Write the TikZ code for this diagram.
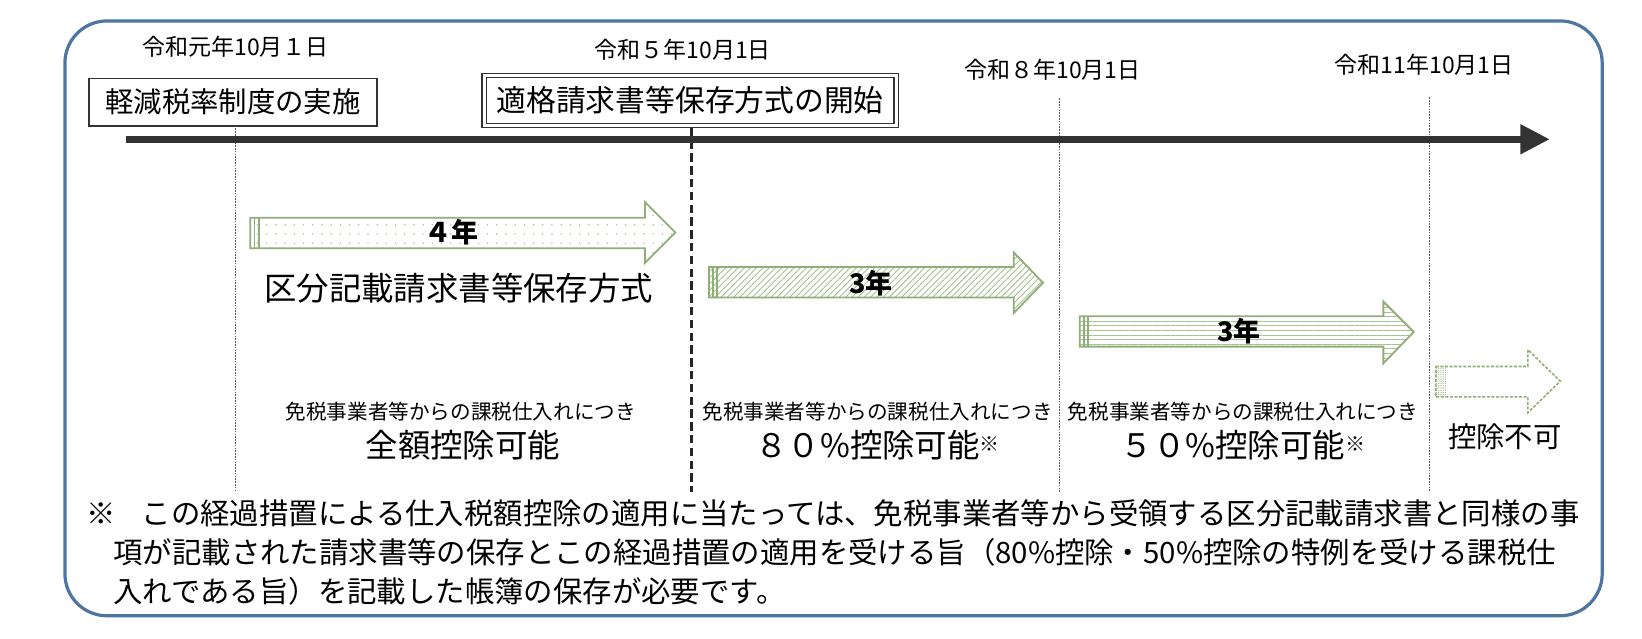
\documentclass[tikz,border=0pt]{standalone}
\usepackage{fontspec}
\setmainfont{Noto Sans CJK JP}
\usetikzlibrary{patterns.meta,arrows.meta}
\definecolor{frameblue}{HTML}{4E74A0}
\definecolor{gline}{HTML}{8FAE78}
\definecolor{gfill}{HTML}{A3C48E}
\definecolor{gdot}{HTML}{9CC48A}
\definecolor{darkline}{HTML}{333333}
\definecolor{vline}{HTML}{555555}
\begin{document}
\begin{tikzpicture}[x=0.5236pt,y=-0.5236pt,
  datelbl/.style={font=\fontsize{11.5}{13}\selectfont, inner sep=0pt},
  boxone/.style={draw=darkline, line width=0.8pt, minimum width=144pt, minimum height=23.6pt, inner sep=0pt, font=\fontsize{14.2}{16}\selectfont},
  boxtwo/.style={draw=darkline, line width=0.6pt, double, double distance=1.6pt, minimum width=206pt, minimum height=25pt, inner sep=0pt, font=\fontsize{14.9}{16}\selectfont},
  yrlbl/.style={font=\bfseries\fontsize{13.5}{15}\selectfont, inner sep=0pt},
  bigtxt/.style={font=\fontsize{16.2}{18}\selectfont, inner sep=0pt},
  smalltxt/.style={font=\fontsize{10.3}{12}\selectfont, inner sep=0pt},
  fntxt/.style={font=\fontsize{14.7}{16}\selectfont, inner sep=0pt, anchor=west},
  vdot/.style={vline, line width=0.6pt, dash pattern=on 0.8pt off 0.6pt},
  arrowline/.style={draw=gline, line width=0.9pt},
]
\useasboundingbox (0,0) rectangle (1568,610);
\fill[white] (0,0) rectangle (1568,610);

% outer frame
\draw[frameblue, line width=1.6pt, rounded corners=21pt] (62,20) rectangle (1530,588);

% dates
\node[datelbl] (d1) at (225,45) {令和元年10月１日};
\node[datelbl] (d2) at (652,47) {令和５年10月1日};
\node[datelbl] (d3) at (1005,67) {令和８年10月1日};
\node[datelbl] (d4) at (1360,62) {令和11年10月1日};

% boxes
\node[boxone] (b1) at (222.5,97.5) {軽減税率制度の実施};
\node[boxtwo] (b2) at (659,96) {適格請求書等保存方式の開始};

% vertical lines
\coordinate (v1t) at (225,120); \coordinate (v1b) at (225,470);
\coordinate (v2t) at (660,122); \coordinate (v2b) at (660,470);
\coordinate (v3t) at (1012,94); \coordinate (v3b) at (1012,470);
\coordinate (v4t) at (1365,93); \coordinate (v4b) at (1365,470);
\draw[vdot] (v1t) -- (v1b);
\draw[black!85, line width=1.6pt, dash pattern=on 4.2pt off 2.2pt] (v2t) -- (v2b);
\draw[vdot] (v3t) -- (v3b);
\draw[vdot] (v4t) -- (v4b);

% timeline
\coordinate (tl0) at (120,133);
\coordinate (tl1) at (1480,133);
\draw[darkline, line width=3.7pt, -{Triangle[length=14.7pt,width=14pt]}] (tl0) -- (tl1);

% arrow 1 (4 years, dotted)
\path[arrowline, pattern={Dots[distance=4.6pt, radius=0.4pt]}, pattern color=gdot]
  (239,208) -- (616,208) -- (616,193) -- (645,222) -- (616,251) -- (616,237) -- (239,237) -- cycle;
\draw[gline, line width=0.9pt] (243,208) -- (243,237) (247,208) -- (247,237);
\node[yrlbl] (a1) at (431,222) {４年};

% arrow 2 (3 years, diagonal hatch)
\path[arrowline, pattern={Lines[angle=45, distance=2.2pt, line width=0.45pt]}, pattern color=gfill]
  (677,255) -- (968,255) -- (968,241) -- (996,270) -- (968,299) -- (968,284) -- (677,284) -- cycle;
\draw[gline, line width=0.9pt] (681,255) -- (681,284) (685,255) -- (685,284);
\node[yrlbl] (a2) at (832,270) {3年};

% arrow 3 (3 years, horizontal lines)
\path[arrowline, pattern={Lines[angle=0, distance=2.3pt, line width=0.5pt]}, pattern color=gfill]
  (1031,302) -- (1321,302) -- (1321,288) -- (1350,317) -- (1321,347) -- (1321,331) -- (1031,331) -- cycle;
\draw[gline, line width=0.9pt] (1035,302) -- (1035,331) (1039,302) -- (1039,331);
\node[yrlbl] (a3) at (1183,316) {3年};

% arrow 4 (no deduction, dashed outline)
\fill[pattern={Dots[distance=1.1pt, radius=0.3pt]}, pattern color=gline] (1371,350) rectangle (1381,379);
\path[draw=gline, line width=0.8pt, dash pattern=on 1.5pt off 0.8pt]
  (1371,350) -- (1459,350) -- (1459,334) -- (1490,364) -- (1459,394) -- (1459,379) -- (1371,379) -- cycle;

% texts
\node[bigtxt] (t1) at (438,275) {区分記載請求書等保存方式};
\node[smalltxt] (s1) at (440,393) {免税事業者等からの課税仕入れにつき};
\node[smalltxt] (s2) at (838,393) {免税事業者等からの課税仕入れにつき};
\node[smalltxt] (s3) at (1187,393) {免税事業者等からの課税仕入れにつき};
\node[bigtxt] (p1) at (442,425) {全額控除可能};
\node[bigtxt] (p2) at (838,425) {８０\%控除可能{\fontsize{10}{10}\selectfont\raisebox{0.5ex}{※}}};
\node[bigtxt] (p3) at (1187,425) {５０\%控除可能{\fontsize{10}{10}\selectfont\raisebox{0.5ex}{※}}};
\node[font=\fontsize{14.2}{16}\selectfont, inner sep=0pt] (p4) at (1437,417) {控除不可};

% footnote
\node[font=\fontsize{14.7}{16}\selectfont, inner sep=0pt] (fm) at (97,490) {※};
\node[fntxt] (f1) at (135,490) {この経過措置による仕入税額控除の適用に当たっては、免税事業者等から受領する区分記載請求書と同様の事};
\node[fntxt] (f2) at (108,527) {項が記載された請求書等の保存とこの経過措置の適用を受ける旨（80\%控除・50\%控除の特例を受ける課税仕};
\node[fntxt] (f3) at (108,565) {入れである旨）を記載した帳簿の保存が必要です。};
\end{tikzpicture}
\end{document}
